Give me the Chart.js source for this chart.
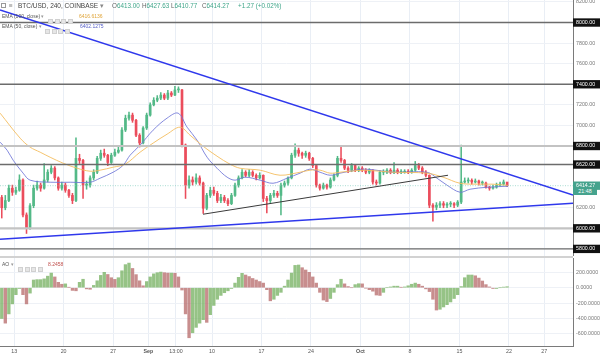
<!DOCTYPE html>
<html><head><meta charset="utf-8">
<script src="https://cdn.jsdelivr.net/npm/chart.js@4.4.0/dist/chart.umd.min.js"></script>
<style>
html,body{margin:0;padding:0;background:#fff;}
#wrap{position:relative;width:600px;height:356px;overflow:hidden;font-family:"Liberation Sans",Arial,sans-serif;}
canvas{position:absolute;left:0;}
#main{top:0;}
#ao{top:258px;}
.t{position:absolute;white-space:nowrap;line-height:1;}
.sep{position:absolute;left:0;width:573px;top:256px;height:2px;background:#d2d2d2;}
.ic{display:inline-block;width:5px;height:5px;background:#e6e6e6;border:1px solid #d0d0d0;box-sizing:border-box;margin-right:1.5px;vertical-align:middle;}
#cd{position:absolute;left:573px;top:187.5px;width:24px;height:7px;background:#45a38d;color:#fff;font-size:5.3px;line-height:7px;text-align:center;}
</style></head>
<body>
<div id="wrap">
<canvas id="main" width="600" height="256"></canvas>
<canvas id="ao" width="600" height="98"></canvas>
<div class="sep"></div>
<div id="cd"></div>
<div class="t" style="left:1px;top:3px;width:5px;height:5px;border:1px solid #999;box-sizing:border-box;"></div>
<div class="t" style="left:9px;top:2.5px;font-size:6.5px;color:#888;">≡</div>
<div class="t" style="left:18px;top:3px;font-size:6.5px;color:#444;">BTC/USD, 240, COINBASE <span style="color:#888">▾</span></div>
<div class="t" style="left:112px;top:3px;font-size:6.3px;color:#666;">O<span style="color:#3ea589">6413.00</span></div>
<div class="t" style="left:142px;top:3px;font-size:6.3px;color:#666;">H<span style="color:#3ea589">6427.63</span></div>
<div class="t" style="left:171px;top:3px;font-size:6.3px;color:#666;">L<span style="color:#3ea589">6410.77</span></div>
<div class="t" style="left:202px;top:3px;font-size:6.3px;color:#666;">C<span style="color:#3ea589">6414.27</span></div>
<div class="t" style="left:238px;top:3px;font-size:6.3px;color:#3ea589;">+1.27 (+0.02%)</div>
<div class="t" style="left:2px;top:13.5px;font-size:5px;color:#555;">EMA (100, close) <span style="color:#999">▾</span></div>
<div class="t" style="left:48px;top:13px;"><span class="ic"></span><span class="ic"></span><span class="ic"></span><span class="ic"></span></div>
<div class="t" style="left:79px;top:13.5px;font-size:5px;color:#e0a53a;">6416.6136</div>
<div class="t" style="left:2px;top:23.5px;font-size:5px;color:#555;">EMA (50, close) <span style="color:#999">▾</span></div>
<div class="t" style="left:45px;top:23px;"><span class="ic"></span><span class="ic"></span><span class="ic"></span><span class="ic"></span></div>
<div class="t" style="left:80px;top:23.5px;font-size:5px;color:#5a63c9;">6402.1275</div>
<div class="t" style="left:2px;top:261.5px;font-size:5px;color:#555;">AO <span style="color:#999">▾</span></div>
<div class="t" style="left:18px;top:261px;"><span class="ic"></span><span class="ic"></span><span class="ic"></span><span class="ic"></span></div>
<div class="t" style="left:48px;top:261.5px;font-size:5px;color:#c0504d;">8.2458</div>
</div>
<script>
// ---------- DATA ----------
const firstOpen = 6300;
const closes = [
6200,6270,6390,6350,6370,6470,6130,6000,6220,6390,
6420,6390,6470,6545,6585,6490,6390,6420,6370,6320,
6270,6680,6660,6420,6420,6490,6545,6680,6730,6710,
6640,6710,6740,6760,6955,7070,7100,7050,6905,6830,
6975,7100,7200,7245,7265,7295,7265,7315,7295,7345,
7345,6810,6420,6470,6450,6490,6440,6195,6320,6370,
6340,6270,6300,6270,6240,6320,6420,6490,6545,6515,
6545,6515,6490,6515,6290,6270,6320,6340,6320,6420,
6440,6490,6710,6760,6730,6710,6730,6680,6610,6420,
6390,6420,6400,6470,6515,6680,6660,6585,6565,6610,
6565,6585,6565,6545,6565,6450,6440,6545,6545,6565,
6545,6565,6545,6545,6555,6545,6565,6610,6585,6545,
6515,6225,6205,6225,6240,6225,6235,6240,6225,6255,
6450,6460,6467,6450,6460,6440,6440,6400,6390,6400,
6420,6430,6450,6414.27];
const highs = [
6320,6320,6420,6420,6400,6520,6480,6150,6240,6420,
6460,6440,6630,6570,6610,6600,6500,6450,6440,6380,
6340,6880,6720,6670,6460,6510,6570,6700,6760,6770,
6720,6730,6770,6790,6980,7100,7130,7120,7060,6920,
6990,7120,7220,7270,7290,7320,7310,7340,7330,7380,
7375,7350,6820,6510,6500,6530,6510,6450,6340,6400,
6400,6360,6330,6320,6290,6340,6440,6510,6570,6560,
6570,6560,6530,6540,6520,6310,6340,6370,6360,6440,
6460,6500,6730,6820,6780,6740,6750,6740,6690,6620,
6430,6440,6430,6490,6530,6700,6790,6670,6600,6630,
6620,6600,6600,6580,6580,6570,6470,6560,6570,6580,
6580,6640,6580,6570,6570,6570,6580,6650,6630,6600,
6560,6520,6240,6250,6260,6260,6250,6260,6250,6270,
6810,6490,6490,6480,6480,6470,6460,6450,6410,6420,
6440,6450,6470,6427.63];
const lows = [
6100,6180,6260,6320,6330,6360,6110,5950,5990,6200,
6370,6360,6380,6450,6530,6470,6370,6370,6350,6300,
6240,6260,6630,6290,6380,6400,6470,6530,6660,6690,
6610,6630,6700,6730,6750,6940,7050,7030,6890,6790,
6820,6960,7090,7190,7230,7250,7250,7250,7280,7290,
7320,6790,6290,6390,6420,6430,6420,6145,6180,6300,
6320,6250,6250,6250,6220,6230,6310,6400,6480,6500,
6500,6500,6470,6480,6260,6150,6250,6300,6300,6130,
6400,6420,6480,6690,6700,6680,6690,6660,6590,6400,
6370,6380,6380,6390,6460,6500,6640,6570,6540,6550,
6550,6550,6550,6530,6530,6430,6420,6430,6520,6530,
6530,6530,6530,6530,6535,6530,6535,6555,6570,6530,
6500,6200,6070,6180,6200,6200,6200,6210,6200,6210,
6240,6440,6440,6430,6440,6420,6420,6390,6370,6380,
6390,6410,6420,6405];
const aoValues = [
-400,-460,-340,-210,-90,-10,-90,-210,-70,100,
105,105,115,150,190,140,70,45,50,5,
-35,-40,70,110,-15,-20,30,90,160,200,
172,130,108,130,220,300,320,250,170,90,
25,80,140,180,195,203,195,190,190,188,
140,-30,-340,-650,-585,-515,-460,-415,-450,-350,
-230,-150,-100,-65,-40,-10,60,135,187,165,
145,120,100,80,60,-25,-170,-150,-100,-60,
20,100,190,290,295,260,230,200,140,60,
-60,-160,-180,-140,-60,40,110,50,15,0,
40,52,50,-5,-25,-45,-95,-100,-60,0,
10,20,20,5,10,25,45,60,45,20,
-15,-50,-150,-290,-280,-250,-220,-185,-140,-90,
15,130,165,165,155,125,87,40,10,-10,
-10,0,8,13];
const ema100Days = [11.02,13.85,15.26,16.68,18.09,19.93,21.91,23.75,25.16,27.0,28.7,30.82,32.66,34.64,36.48,37.89,39.73,41.71,43.55,44.97,47.8,50.62,53.45,54.87,56.28,57.7,59.11,60.52,62.65,66.61,71.42,73.68,76.08,78.49,80.75,82.87];
const ema100Vals = [7119,6876,6789,6740,6691,6633,6584,6555,6565,6594,6623,6740,6828,6915,6983,6905,6798,6701,6623,6584,6565,6516,6545,6565,6565,6536,6545,6555,6565,6545,6536,6497,6438,6429,6429,6417];
const ema50Days = [11.02,12.01,12.86,14.27,15.26,18.09,20.92,23.75,25.16,27.0,28.42,29.41,30.82,32.66,34.64,36.2,37.47,38.88,40.3,41.71,43.13,44.26,45.67,47.8,49.63,51.61,53.45,54.87,56.28,57.7,59.11,60.52,62.65,66.61,71.42,72.83,74.25,76.08,77.5,79.9,82.87];
const ema50Vals = [6837,6759,6662,6536,6468,6448,6448,6448,6487,6545,6613,6711,6808,6954,7071,7119,6983,6857,6691,6584,6497,6468,6497,6468,6438,6487,6536,6575,6545,6516,6536,6555,6575,6545,6545,6487,6419,6351,6380,6399,6409];
const levelPrices = [8000, 7400, 6800, 6620, 6000, 5800];
const lastPrice = 6414.27;
const countdown = '21:48';
const blueTopDays = [11.0, 92.07],  blueTopPrices = [8122, 6324];
const blueLowDays = [11.0, 92.07],  blueLowPrices = [5894, 6244];
const blackDays = [39.73, 74.39],   blackPrices = [6137, 6516];
const xTickDays = [13,20,27,32,35.9,41,48,55,62,69,76,83,88];
const xTickLabels = ['13','20','27','Sep','13:00','10','17','24','Oct','8','15','22','27'];
const yTickVals = [8200,8000,7800,7600,7400,7200,7000,6800,6620,6414.27,6200,6000,5800];
const aoTickVals = [200,0,-200,-400,-600];

// ---------- BUILD ----------
document.getElementById('cd').textContent = countdown;
const X_MIN = 11.0, X_MAX = 92.07;
const days = closes.map((_, i) => 11.25 + i * 0.5);
const opens = closes.map((c, i) => i === 0 ? firstOpen : closes[i - 1]);
const UP = '#53b987', DOWN = '#eb4d5c';
const upAt = i => closes[i] >= opens[i];
Chart.defaults.font.family = '"Liberation Sans", Arial, sans-serif';

const pts = (xs, ys) => xs.map((x, i) => ({x: x, y: ys[i]}));
const lineDs = (data, color, width, order, extra) => Object.assign({
  type: 'line', data: data, borderColor: color, borderWidth: width,
  pointRadius: 0, tension: 0, fill: false, order: order
}, extra || {});

const datasets = [];
datasets.push({
  type: 'bar', data: days.map((d, i) => ({x: d, y: [lows[i], highs[i]]})),
  backgroundColor: c => upAt(c.dataIndex) ? UP : DOWN, barThickness: 0.9,
  grouped: false, order: 11
});
datasets.push({
  type: 'bar', data: days.map((d, i) => ({x: d, y: [opens[i], closes[i]]})),
  backgroundColor: c => upAt(c.dataIndex) ? UP : DOWN, barThickness: 2.0,
  minBarLength: 1, grouped: false, order: 10
});
datasets.push(lineDs(pts(ema100Days, ema100Vals), 'rgba(244,190,95,0.9)', 1, 5, {tension: 0.35}));
datasets.push(lineDs(pts(ema50Days, ema50Vals), 'rgba(110,118,215,0.85)', 1, 5, {tension: 0.35}));
levelPrices.forEach(p => {
  const light = (p === 6800 || p === 6000);
  datasets.push(lineDs(pts([X_MIN, X_MAX], [p, p]), light ? '#c3c3c3' : '#6c6c6c', light ? 2.2 : 1.4, 2));
});
datasets.push(lineDs(pts([X_MIN, X_MAX], [lastPrice, lastPrice]), 'rgba(120,200,185,0.8)', 0.8, 3, {borderDash: [1, 1.5]}));
datasets.push(lineDs(pts(blueTopDays, blueTopPrices), '#2f38ec', 1.5, 1));
datasets.push(lineDs(pts(blueLowDays, blueLowPrices), '#2f38ec', 1.5, 1));
datasets.push(lineDs(pts(blackDays, blackPrices), '#3a3a3a', 1, 1));

const boxed = v => levelPrices.indexOf(v) >= 0;
const isLast = v => Math.abs(v - lastPrice) < 0.001;

new Chart(document.getElementById('main'), {
  type: 'bar',
  data: {datasets: datasets},
  options: {
    responsive: false, animation: false, events: [],
    layout: {padding: 0},
    plugins: {legend: {display: false}, tooltip: {enabled: false}},
    scales: {
      x: {
        type: 'linear', min: X_MIN, max: X_MAX, offset: false,
        afterBuildTicks: s => { s.ticks = xTickDays.map(v => ({value: v})); },
        afterFit: s => { s.height = 0; s.paddingLeft = 0; s.paddingRight = 0; },
        ticks: {display: false},
        grid: {color: '#e9eef5', drawTicks: false, offset: false},
        border: {display: false}
      },
      y: {
        type: 'linear', position: 'right', min: 5731, max: 8219,
        afterBuildTicks: s => { s.ticks = yTickVals.map(v => ({value: v})); },
        afterFit: s => { s.width = 27; s.paddingTop = 0; s.paddingBottom = 0; },
        grid: {
          drawTicks: false,
          color: c => (c.tick && Math.abs(c.tick.value % 200) < 0.001) ? '#eef1f6' : 'rgba(0,0,0,0)'
        },
        border: {display: true, color: '#7a7a7a', width: 1},
        ticks: {
          autoSkip: false, padding: 3,
          font: {size: 5.3},
          color: c => (boxed(c.tick.value) || isLast(c.tick.value)) ? '#ffffff' : '#777777',
          showLabelBackdrop: c => boxed(c.tick.value) || isLast(c.tick.value),
          backdropColor: c => isLast(c.tick.value) ? '#45a38d' : '#111111',
          backdropPadding: {top: 1, bottom: 1, left: 3, right: 5},
          callback: v => v.toFixed(2)
        }
      }
    }
  }
});

const AO_UP = 'rgba(120,178,100,0.78)', AO_DOWN = 'rgba(184,110,110,0.78)';
new Chart(document.getElementById('ao'), {
  type: 'bar',
  data: {datasets: [{
    data: days.map((d, i) => ({x: d, y: aoValues[i]})),
    backgroundColor: c => (c.dataIndex === 0 || aoValues[c.dataIndex] >= aoValues[c.dataIndex - 1]) ? AO_UP : AO_DOWN,
    barThickness: 2.7, grouped: false
  }]},
  options: {
    responsive: false, animation: false, events: [],
    layout: {padding: 0},
    plugins: {legend: {display: false}, tooltip: {enabled: false}},
    scales: {
      x: {
        type: 'linear', min: X_MIN, max: X_MAX, offset: false,
        afterBuildTicks: s => { s.ticks = xTickDays.map(v => ({value: v})); },
        afterFit: s => { s.height = 10; s.paddingLeft = 0; s.paddingRight = 0; },
        ticks: {
          autoSkip: false, maxRotation: 0, minRotation: 0, padding: 2,
          color: '#555',
          font: c => ({size: 5.3, weight: (c.tick && (c.tick.value === 32 || c.tick.value === 62)) ? 'bold' : 'normal'}),
          callback: (v, i) => xTickLabels[i]
        },
        grid: {color: '#e9eef5', drawTicks: false, offset: false},
        border: {display: true, color: '#7a7a7a', width: 1}
      },
      y: {
        type: 'linear', position: 'right', min: -757, max: 386,
        afterBuildTicks: s => { s.ticks = aoTickVals.map(v => ({value: v})); },
        afterFit: s => { s.width = 27; s.paddingTop = 0; s.paddingBottom = 0; },
        grid: {drawTicks: false, color: '#eef1f6'},
        border: {display: true, color: '#7a7a7a', width: 1},
        ticks: {autoSkip: false, padding: 3, font: {size: 5.3}, color: '#777', callback: v => v.toFixed(4)}
      }
    }
  }
});
</script>
</body></html>
